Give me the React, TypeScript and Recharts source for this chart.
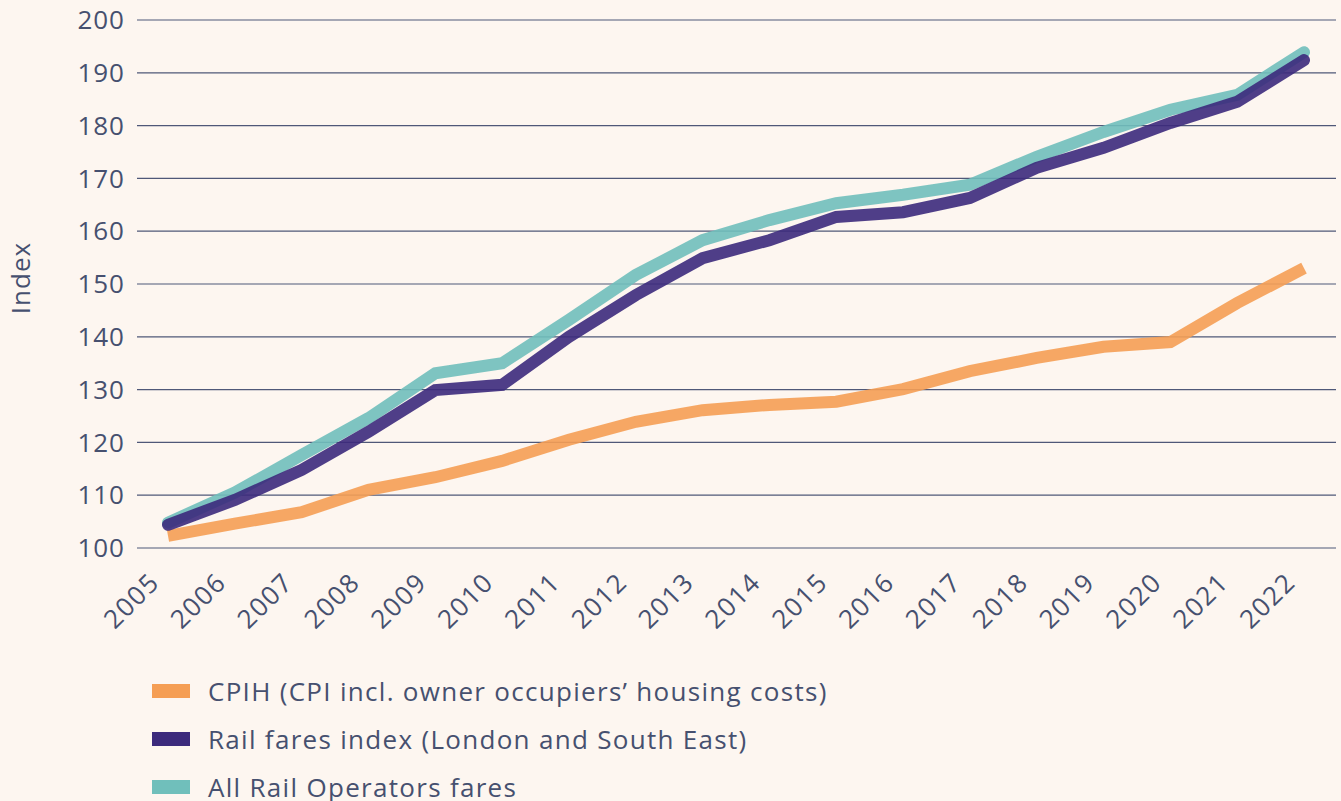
import React from 'react';
import { LineChart, Line, XAxis, YAxis, CartesianGrid } from 'recharts';

const years = ['2005', '2006', '2007', '2008', '2009', '2010', '2011', '2012', '2013', '2014', '2015', '2016', '2017', '2018', '2019', '2020', '2021', '2022'];
const cpih = [102.3, 104.6, 106.8, 111.0, 113.4, 116.5, 120.5, 123.9, 126.1, 127.1, 127.7, 130.1, 133.5, 136.0, 138.1, 139.0, 146.4, 153.0];
const railLSE = [104.4, 109.1, 114.8, 122.0, 129.9, 130.9, 140.0, 147.9, 154.9, 158.3, 162.7, 163.6, 166.3, 172.0, 175.8, 180.5, 184.5, 192.4];
const allOperators = [104.8, 110.5, 117.6, 124.6, 133.1, 135.0, 143.2, 151.7, 158.3, 162.1, 165.3, 166.9, 168.8, 174.1, 178.8, 183.0, 185.8, 193.9];
const yTicks = [100, 110, 120, 130, 140, 150, 160, 170, 180, 190, 200];

const series = [
  { key: 'cpih', name: 'CPIH (CPI incl. owner occupiers\u2019 housing costs)', color: '#f59e54', cap: 'butt' },
  { key: 'allOperators', name: 'All Rail Operators fares', color: '#70bfbb', cap: 'round' },
  { key: 'railLSE', name: 'Rail fares index (London and South East)', color: '#3c2a7c', cap: 'round' },
];
const legendOrder = ['cpih', 'railLSE', 'allOperators'];

const data = years.map((year, i) => ({
  year,
  cpih: cpih[i],
  railLSE: railLSE[i],
  allOperators: allOperators[i],
}));

const FONT = '"Open Sans", sans-serif';
const TEXT = '#46506f';
const BG = '#fdf6f0';

const YearTick = (props: any) => {
  const { x, y, payload } = props;
  return (
    <g transform={`translate(${x - 7},${y + 28})`}>
      <text transform="rotate(-45)" textAnchor="end" fill={TEXT} fontSize={26} letterSpacing={1.5} fontFamily={FONT}>
        {payload.value}
      </text>
    </g>
  );
};

const IndexLabel = () => (
  <text x={20} y={278} transform="rotate(-90, 20, 278)" textAnchor="middle" dominantBaseline="central" fill={TEXT} fontSize={26} letterSpacing={1} fontFamily={FONT}>
    Index
  </text>
);

export default function App() {
  return (
    <div style={{ position: 'absolute', left: 0, top: 0, width: 1341, height: 801, background: BG, overflow: 'hidden', fontFamily: FONT }}>
      <LineChart width={1341} height={650} data={data} margin={{ top: 20, right: 5, bottom: 0, left: 0 }}>
        <CartesianGrid horizontal vertical={false} stroke="#4f5878" strokeWidth={1.2} />
        <XAxis
          dataKey="year"
          axisLine={false}
          tickLine={false}
          height={102}
          interval={0}
          padding={{ left: 31, right: 32 }}
          tick={<YearTick />}
        />
        <YAxis
          domain={[100, 200]}
          ticks={yTicks}
          width={137}
          axisLine={false}
          tickLine={false}
          tickMargin={6}
          tick={{ fill: TEXT, fontSize: 26, fontFamily: FONT, letterSpacing: 1 }}
          label={{ content: <IndexLabel /> }}
        />
        {series.map((s) => (
          <Line
            key={s.key}
            type="linear"
            dataKey={s.key}
            name={s.name}
            stroke={s.color}
            strokeWidth={12}
            strokeOpacity={0.9}
            strokeLinecap={s.cap as any}
            dot={false}
            activeDot={false}
            isAnimationActive={false}
          />
        ))}
      </LineChart>
      {legendOrder.map((k, i) => {
        const s = series.find((d) => d.key === k)!;
        return (
          <div key={k} style={{ position: 'absolute', left: 152, top: 674 + i * 48, height: 34, display: 'flex', alignItems: 'center' }}>
            <div style={{ width: 38, height: 14, background: s.color, marginRight: 18 }} />
            <span style={{ fontSize: 26, letterSpacing: 1.3, color: TEXT, whiteSpace: 'nowrap' }}>{s.name}</span>
          </div>
        );
      })}
    </div>
  );
}
